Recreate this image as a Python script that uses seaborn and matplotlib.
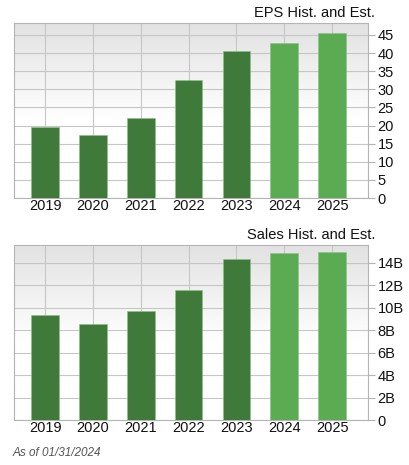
import numpy as np
import matplotlib
matplotlib.use("Agg")
import matplotlib.pyplot as plt
import seaborn as sns
from matplotlib.ticker import FuncFormatter, MultipleLocator
from matplotlib.colors import LinearSegmentedColormap

years = ["2019", "2020", "2021", "2022", "2023", "2024", "2025"]
eps = [19.6, 17.4, 22.0, 32.5, 40.7, 42.8, 45.5]
sales = [9.35e9, 8.54e9, 9.73e9, 11.63e9, 14.35e9, 14.88e9, 15.0e9]
is_est = [False, False, False, False, False, True, True]

DARK = "#3f7a3a"
LIGHT = "#5aab52"
colors = [LIGHT if e else DARK for e in is_est]

sns.set_style("white")
plt.rcParams["font.family"] = ["Liberation Sans", "DejaVu Sans"]

fig = plt.figure(figsize=(4.09, 4.65), dpi=100)
ax1 = fig.add_axes([14 / 409, 1 - 198 / 465, 354 / 409, 175 / 465])
ax2 = fig.add_axes([14 / 409, 1 - 420 / 465, 354 / 409, 175 / 465])

# gray-to-white gradient like the original background
grad = np.linspace(1, 0, 256).reshape(-1, 1)
grad = np.clip((grad - 0.45) / 0.55, 0, 1)
bg_cmap = LinearSegmentedColormap.from_list("bg", ["#ffffff", "#e2e2e2"])


def style(ax, values, ymax, step, fmt, title):
    ax.imshow(grad, cmap=bg_cmap, aspect="auto", extent=[0, 1, 0, 1],
              transform=ax.transAxes, zorder=0, vmin=0, vmax=1)
    sns.barplot(x=years, y=values, hue=years, palette=colors, legend=False,
                saturation=1, width=0.58, edgecolor="#8fbf88", linewidth=0.4,
                ax=ax, zorder=3)
    ax.set_xlim(-0.65, 6.75)
    ax.set_ylim(0, ymax)
    ax.yaxis.set_major_locator(MultipleLocator(step))
    ax.yaxis.set_major_formatter(FuncFormatter(fmt))
    ax.yaxis.tick_right()
    ax.grid(True, color="#c6c6c6", linewidth=0.8, zorder=1)
    ax.set_axisbelow(True)
    for s in ax.spines.values():
        s.set_color("#b4b4b4")
        s.set_linewidth(0.8)
    ax.tick_params(axis="y", which="major", right=True, left=False, length=5,
                   width=0.8, color="#b4b4b4", pad=2, labelsize=10.5, labelcolor="#111111")
    ax.tick_params(axis="x", length=0, pad=1, labelsize=10.5, labelcolor="#111111")
    ax.set_xlabel("")
    ax.set_ylabel("")
    ax.set_title(title, loc="right", fontsize=10.5, pad=4, x=1.02, color="#111111")


style(ax1, eps, 48.3, 5, lambda v, p: f"{v:g}", "EPS Hist. and Est.")
style(ax2, sales, 15.6e9, 2e9,
      lambda v, p: "0" if v == 0 else f"{v / 1e9:g}B", "Sales Hist. and Est.")

fig.text(13 / 409, 1 - 453 / 465, "As of 01/31/2024", fontsize=8.5,
         style="italic", color="#555555", va="center", ha="left")

fig.savefig("out.png", dpi=100)
